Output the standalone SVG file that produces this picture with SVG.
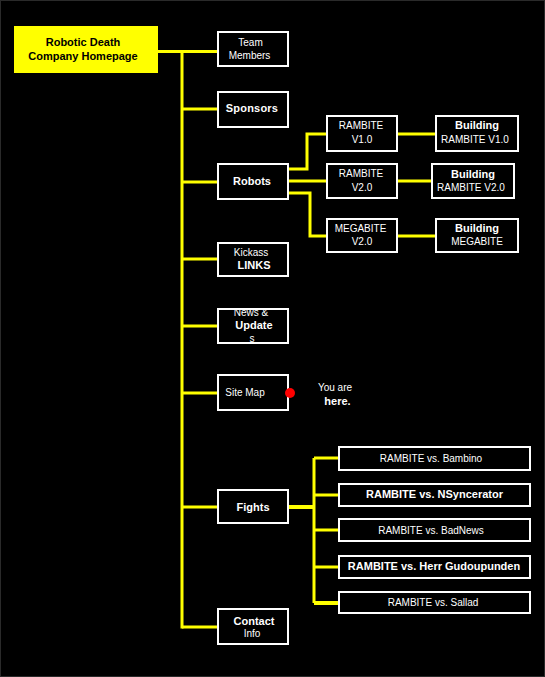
<svg xmlns="http://www.w3.org/2000/svg" width="545" height="677" viewBox="0 0 545 677">
<style>
.bg{fill:#000}
.box{fill:#000;stroke:#fff;stroke-width:2}
.t{fill:#fff;font-family:"Liberation Sans",Arial,sans-serif;font-size:10px;text-anchor:middle}
.b{font-weight:bold;font-size:11px}
.c{fill:none;stroke:#ffff00;stroke-width:3}
.title{fill:#000;font-family:"Liberation Sans",Arial,sans-serif;font-size:11px;font-weight:bold;text-anchor:middle}
</style>
<rect class="bg" x="0" y="0" width="545" height="677"/>
<rect x="0.5" y="0.5" width="544" height="676" fill="none" stroke="#2a2a2a" stroke-width="1"/>
<g id="connectors">
<path class="c" d="M158 51.5H217"/>
<path class="c" d="M182 50V628.5"/>
<path class="c" d="M182 109H217M182 182H217M182 259H217M182 326H217M182 393H217M182 507H217M182 627H217"/>
<path class="c" d="M289 169H307V134H326M289 181H326M289 193H310V236H326"/>
<path class="c" d="M398 134H435M398 181H431M398 236H435"/>
<path class="c" style="stroke-width:4" d="M289 507H314"/>
<path class="c" d="M314 458V603"/>
<path class="c" d="M314 458H338M314 495H338M314 530H338M314 567H338"/>
<path class="c" style="stroke-width:4" d="M314 603H338"/>
</g>
<g id="home">
<rect x="14" y="26" width="144" height="47" fill="#ffff00"/>
<text class="title" x="83" y="46">Robotic Death</text>
<text class="title" x="83" y="59.5">Company Homepage</text>
</g>
<g id="team">
<rect class="box" x="218" y="32" width="70" height="34"/>
<text class="t" x="250.5" y="46">Team</text>
<text class="t" x="249.5" y="58.5">Members</text>
</g>
<g id="sponsors">
<rect class="box" x="218" y="92" width="70" height="35"/>
<text class="t b" x="252" y="112" letter-spacing="0.2">Sponsors</text>
</g>
<g id="robots">
<rect class="box" x="218" y="164" width="70" height="35"/>
<text class="t b" x="252" y="185">Robots</text>
</g>
<g id="rambite1">
<rect class="box" x="327" y="116" width="70" height="35"/>
<text class="t" x="361" y="129">RAMBITE</text>
<text class="t" x="362" y="142.5">V1.0</text>
</g>
<g id="rambite2">
<rect class="box" x="327" y="164" width="70" height="34"/>
<text class="t" x="361" y="177">RAMBITE</text>
<text class="t" x="362" y="190.5">V2.0</text>
</g>
<g id="megabite">
<rect class="box" x="327" y="219" width="70" height="33"/>
<text class="t" x="360.5" y="231.5">MEGABITE</text>
<text class="t" x="362" y="244.5">V2.0</text>
</g>
<g id="build1">
<rect class="box" x="436" y="116" width="82" height="35"/>
<text class="t b" x="477" y="129">Building</text>
<text class="t" x="475" y="143">RAMBITE V1.0</text>
</g>
<g id="build2">
<rect class="box" x="432" y="164" width="82" height="34"/>
<text class="t b" x="473" y="177.5">Building</text>
<text class="t" x="471" y="191">RAMBITE V2.0</text>
</g>
<g id="build3">
<rect class="box" x="436" y="219" width="82" height="33"/>
<text class="t b" x="477" y="231.5">Building</text>
<text class="t" x="477" y="244.5">MEGABITE</text>
</g>
<g id="kickass">
<rect class="box" x="218" y="243" width="70" height="33"/>
<text class="t" x="251" y="255.5">Kickass</text>
<text class="t b" x="254" y="268.5">LINKS</text>
</g>
<g id="news">
<rect class="box" x="218" y="309" width="70" height="34"/>
<text class="t" x="251" y="315.5">News &amp;</text>
<text class="t b" x="254" y="329">Update</text>
<text class="t" x="252" y="341.5">s</text>
</g>
<g id="sitemap">
<rect class="box" x="218" y="375" width="70" height="35"/>
<text class="t" x="245" y="395.5">Site Map</text>
<circle cx="290" cy="393" r="5" fill="#ff0000"/>
</g>
<g id="youarehere">
<text class="t" x="335" y="391">You are</text>
<text class="t b" x="337.5" y="404.5">here.</text>
</g>
<g id="fights">
<rect class="box" x="218" y="490" width="70" height="33"/>
<text class="t b" x="253" y="510.5">Fights</text>
</g>
<g id="fight1">
<rect class="box" x="339" y="447" width="191" height="23"/>
<text class="t" x="431" y="462" font-size="10.5">RAMBITE vs. Bambino</text>
</g>
<g id="fight2">
<rect class="box" x="339" y="484" width="191" height="22"/>
<text class="t b" x="434.5" y="498" font-size="10.5">RAMBITE vs. NSyncerator</text>
</g>
<g id="fight3">
<rect class="box" x="339" y="519" width="191" height="22"/>
<text class="t" x="431" y="533.5" font-size="10.5">RAMBITE vs. BadNews</text>
</g>
<g id="fight4">
<rect class="box" x="339" y="556" width="191" height="22"/>
<text class="t b" x="434" y="569.5" font-size="10.5">RAMBITE vs. Herr Gudoupunden</text>
</g>
<g id="fight5">
<rect class="box" x="339" y="592" width="191" height="21"/>
<text class="t" x="433" y="606" font-size="10.5">RAMBITE vs. Sallad</text>
</g>
<g id="contact">
<rect class="box" x="218" y="609" width="70" height="35"/>
<text class="t b" x="254" y="624.5">Contact</text>
<text class="t" x="252" y="637">Info</text>
</g>
</svg>
